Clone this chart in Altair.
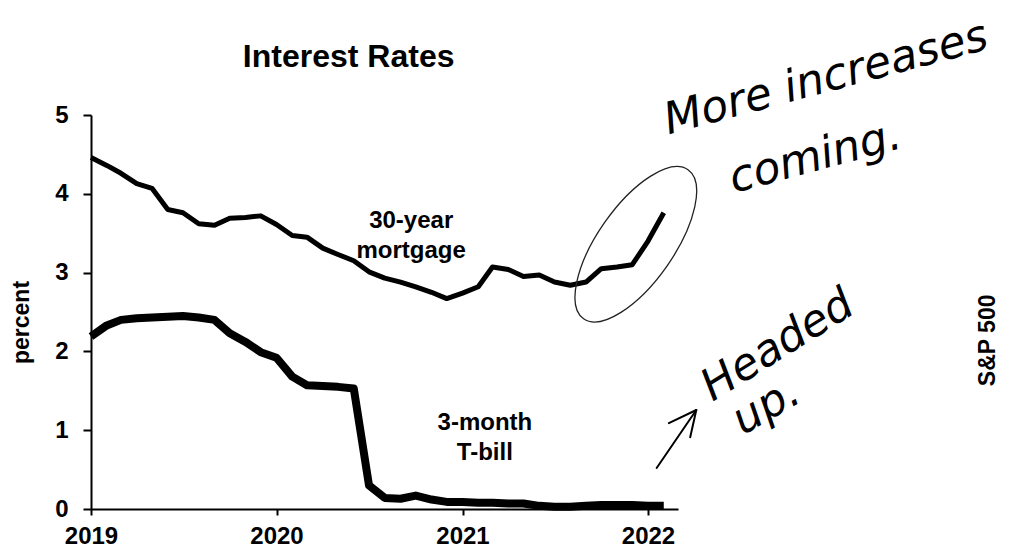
import altair as alt
import pandas as pd

# ---------------- data ----------------
months = pd.date_range("2019-01-01", periods=38, freq="MS").strftime("%Y-%m-%dT00:00").tolist()

mortgage = [4.46, 4.36, 4.26, 4.13, 4.07, 3.80, 3.76, 3.62, 3.60, 3.69, 3.70, 3.72,
            3.61, 3.47, 3.45, 3.31, 3.23, 3.15, 3.01, 2.93, 2.88, 2.82, 2.75, 2.67,
            2.74, 2.82, 3.07, 3.04, 2.95, 2.97, 2.88, 2.84, 2.88, 3.05, 3.07, 3.10,
            3.40, 3.76]
tbill = [2.19, 2.33, 2.40, 2.42, 2.43, 2.44, 2.45, 2.43, 2.40, 2.23, 2.12, 1.99,
         1.92, 1.68, 1.57, 1.56, 1.55, 1.53, 0.30, 0.14, 0.13, 0.17, 0.12, 0.09,
         0.09, 0.08, 0.08, 0.07, 0.07, 0.04, 0.03, 0.03, 0.04, 0.05, 0.05, 0.05,
         0.04, 0.04]

year_ticks = [2019, 2020, 2021, 2022]
y_ticks = [0, 1, 2, 3, 4, 5]

title_text = "Interest Rates"
title_date = ["2020-05-22T00:00"]
title_value = [5.61]

mortgage_label = ["30-year", "mortgage"]
tbill_label = ["3-month", "T-bill"]
label_dates = ["2020-09-22T00:00", "2021-02-14T00:00"]
label_values = [3.566, 1.0]

# handwritten notes (position in data space)
note_texts = ["More increases", "coming.", "Headed", "up."]
note_dates = ["2022-12-24T00:00", "2022-12-03T00:00", "2022-09-27T00:00", "2022-09-04T00:00"]
note_values = [5.30, 4.30, 1.93, 1.155]
note_angles = [-15, -15, -32, -30]

# arrow strokes: shaft + two barbs
arrow_d1 = ["2022-01-18T00:00", "2022-02-11T00:00", "2022-03-25T00:00"]
arrow_v1 = [0.52, 1.09, 0.91]
arrow_d2 = ["2022-04-06T00:00", "2022-04-06T00:00", "2022-04-06T00:00"]
arrow_v2 = [1.256, 1.256, 1.256]

circle_date = ["2021-12-08T00:00"]
circle_value = [3.36]

side_label = "S&P 500"
side_date = ["2023-11-01T00:00"]
side_value = [2.14]

# ---------------- tables ----------------
series = pd.DataFrame({"date": months, "mortgage": mortgage, "tbill": tbill})

FONT = "Liberation Sans"
HAND = "DejaVu Sans"

xscale = alt.Scale(domain=[alt.DateTime(year=2019, month=1, date=1),
                           alt.DateTime(year=2022, month=3, date=1)])
yscale = alt.Scale(domain=[0, 5], nice=False)

xaxis = alt.Axis(values=[alt.DateTime(year=y, month=1, date=1) for y in year_ticks],
                 format="%Y", title=None, labelFlush=False, tickSize=6,
                 labelPadding=9, grid=False)
yaxis = alt.Axis(values=y_ticks, title="percent", tickSize=8, labelPadding=15,
                 grid=False, titleAngle=270, titleX=-58, titleY=207,
                 titleAlign="center", titleBaseline="bottom")


def X(field="date"):
    return alt.X(f"{field}:T", scale=xscale, axis=xaxis)


def Y(field):
    return alt.Y(f"{field}:Q", scale=yscale, axis=yaxis)


def point_df(d, v):
    return pd.DataFrame({"date": d, "value": v})


mort_line = alt.Chart(series).mark_line(color="black", strokeWidth=5, strokeJoin="round").encode(
    x=X(), y=Y("mortgage"))
tb_line = alt.Chart(series).mark_line(color="black", strokeWidth=8, strokeJoin="round").encode(
    x=X(), y=Y("tbill"))

title = alt.Chart(point_df(title_date, title_value)).mark_text(
    text=title_text, font=FONT, fontWeight="bold", fontSize=32,
    align="center", baseline="alphabetic", color="black").encode(x=X(), y=Y("value"))

lab_m = alt.Chart(point_df([label_dates[0]], [label_values[0]])).mark_text(
    text=mortgage_label, font=FONT, fontWeight="bold", fontSize=24, lineHeight=30,
    align="center", baseline="alphabetic", color="black").encode(x=X(), y=Y("value"))
lab_t = alt.Chart(point_df([label_dates[1]], [label_values[1]])).mark_text(
    text=tbill_label, font=FONT, fontWeight="bold", fontSize=24, lineHeight=30,
    align="center", baseline="alphabetic", color="black").encode(x=X(), y=Y("value"))

notes = []
for t, d, v, a in zip(note_texts, note_dates, note_values, note_angles):
    notes.append(alt.Chart(point_df([d], [v])).mark_text(
        text=t, font=HAND, fontStyle="italic", fontWeight=200, fontSize=44, angle=(a % 360),
        align="center", baseline="alphabetic", color="black").encode(x=X(), y=Y("value")))

arrow = alt.Chart(pd.DataFrame({"date": arrow_d1, "value": arrow_v1,
                                "date2": arrow_d2, "value2": arrow_v2})).mark_rule(
    color="black", strokeWidth=2, strokeCap="round").encode(
    x=X(), y=Y("value"), x2="date2:T", y2="value2:Q")

ellipse_path = "M0,-1A0.418,1,0,1,1,0,1A0.418,1,0,1,1,0,-1Z"
circle = alt.Chart(point_df(circle_date, circle_value)).mark_point(
    shape=ellipse_path, size=33124, angle=35, filled=False, strokeWidth=1.3,
    color="#222222", opacity=1).encode(x=X(), y=Y("value"))

side = alt.Chart(point_df(side_date, side_value)).mark_text(
    text=side_label, font=FONT, fontWeight="bold", fontSize=23, angle=270,
    align="center", baseline="middle", color="black").encode(x=X(), y=Y("value"))

chart = alt.layer(mort_line, tb_line, title, lab_m, lab_t, *notes, arrow, circle, side).properties(
    width=587, height=394,
    autosize=alt.AutoSizeParams(type="none"),
    padding={"left": 83, "top": 107, "right": 323, "bottom": 38},
    background="white",
).configure_view(stroke=None).configure_axis(
    domainColor="black", domainWidth=2, tickColor="black", tickWidth=2,
    labelFont=FONT, labelFontSize=24, labelFontWeight="bold", labelColor="black",
    titleFont=FONT, titleFontSize=23, titleFontWeight="bold", titleColor="black",
)

chart.save("out.html", embed_options={"renderer": "svg", "actions": False})
